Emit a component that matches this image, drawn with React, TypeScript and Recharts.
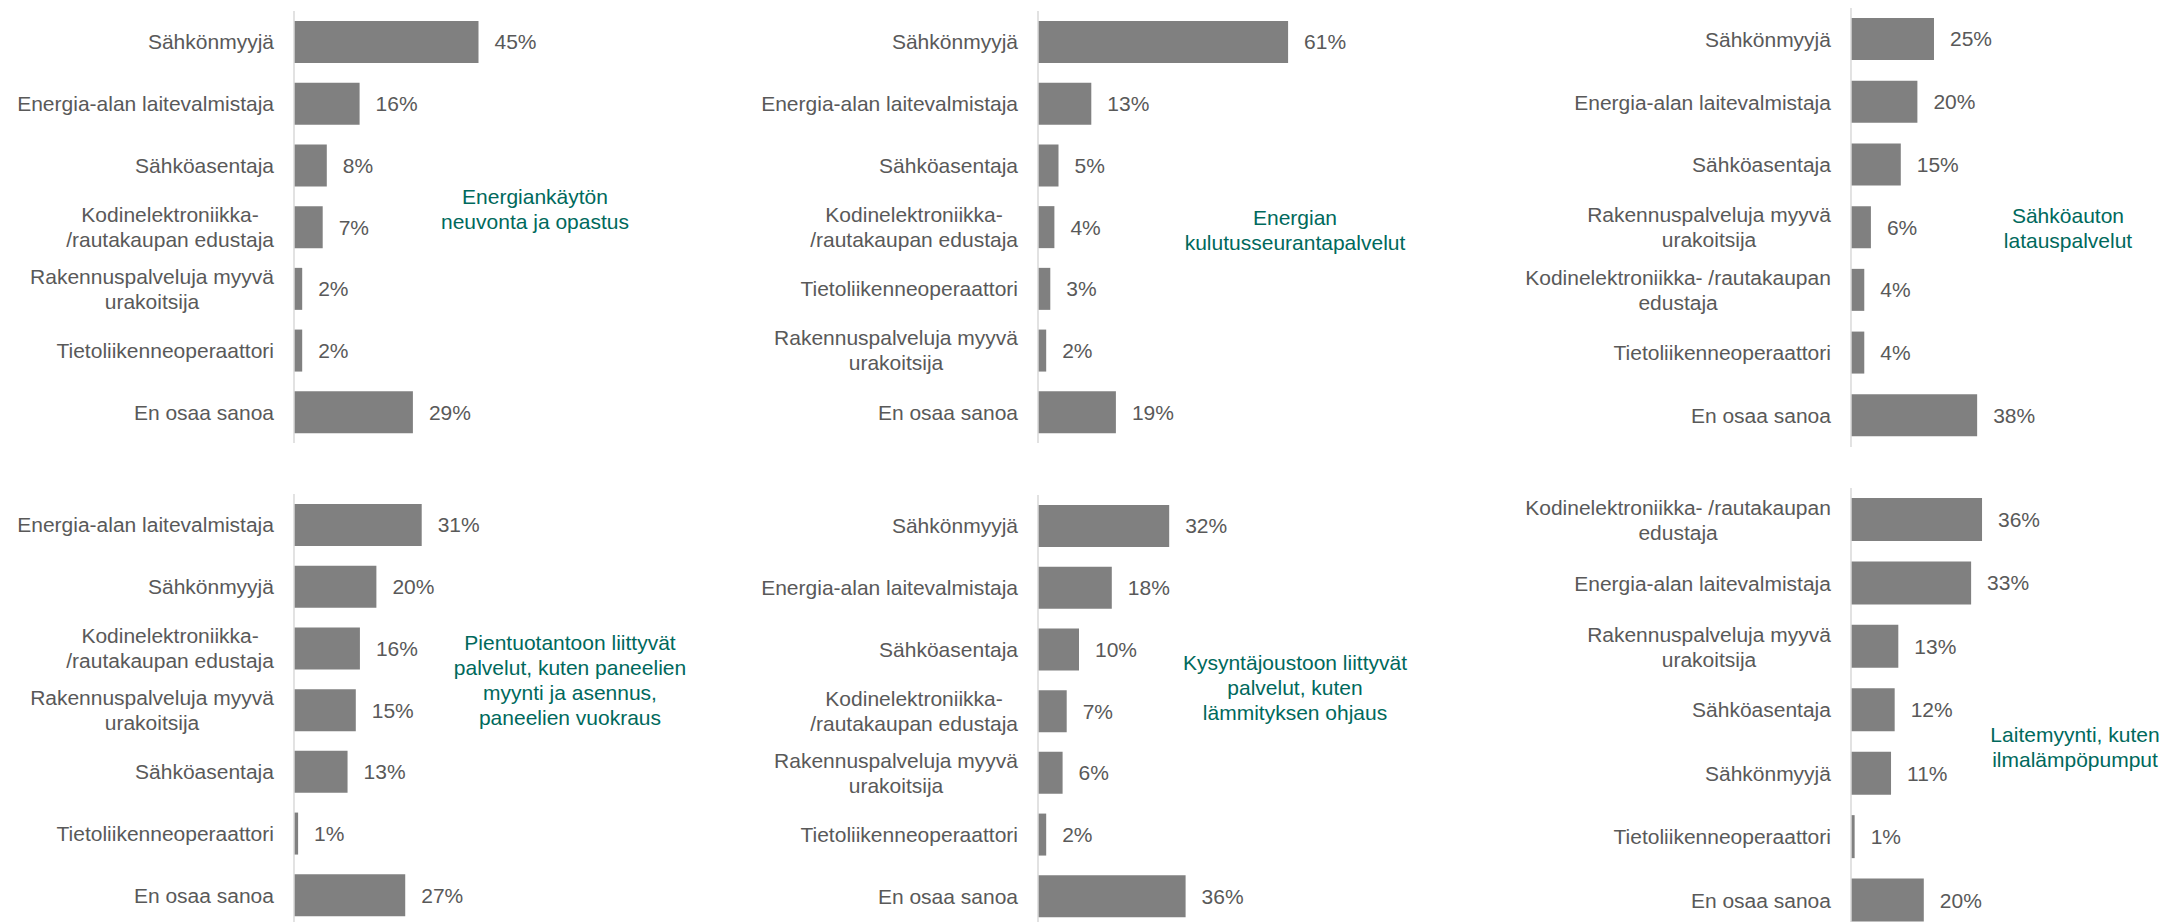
import React from 'react';
import { BarChart, Bar, XAxis, YAxis, LabelList } from 'recharts';

// ---------- data ----------
const cats1 = ['Sähkönmyyjä', 'Energia-alan laitevalmistaja', 'Sähköasentaja', 'Kodinelektroniikka-\n/rautakaupan edustaja', 'Rakennuspalveluja myyvä\nurakoitsija', 'Tietoliikenneoperaattori', 'En osaa sanoa'];
const vals1 = [45, 16, 8, 7, 2, 2, 29];
const title1 = ['Energiankäytön', 'neuvonta ja opastus'];

const cats2 = ['Sähkönmyyjä', 'Energia-alan laitevalmistaja', 'Sähköasentaja', 'Kodinelektroniikka-\n/rautakaupan edustaja', 'Tietoliikenneoperaattori', 'Rakennuspalveluja myyvä\nurakoitsija', 'En osaa sanoa'];
const vals2 = [61, 13, 5, 4, 3, 2, 19];
const title2 = ['Energian', 'kulutusseurantapalvelut'];

const cats3 = ['Sähkönmyyjä', 'Energia-alan laitevalmistaja', 'Sähköasentaja', 'Rakennuspalveluja myyvä\nurakoitsija', 'Kodinelektroniikka- /rautakaupan\nedustaja', 'Tietoliikenneoperaattori', 'En osaa sanoa'];
const vals3 = [25, 20, 15, 6, 4, 4, 38];
const title3 = ['Sähköauton', 'latauspalvelut'];

const cats4 = ['Energia-alan laitevalmistaja', 'Sähkönmyyjä', 'Kodinelektroniikka-\n/rautakaupan edustaja', 'Rakennuspalveluja myyvä\nurakoitsija', 'Sähköasentaja', 'Tietoliikenneoperaattori', 'En osaa sanoa'];
const vals4 = [31, 20, 16, 15, 13, 1, 27];
const title4 = ['Pientuotantoon liittyvät', 'palvelut, kuten paneelien', 'myynti ja asennus,', 'paneelien vuokraus'];

const cats5 = ['Sähkönmyyjä', 'Energia-alan laitevalmistaja', 'Sähköasentaja', 'Kodinelektroniikka-\n/rautakaupan edustaja', 'Rakennuspalveluja myyvä\nurakoitsija', 'Tietoliikenneoperaattori', 'En osaa sanoa'];
const vals5 = [32, 18, 10, 7, 6, 2, 36];
const title5 = ['Kysyntäjoustoon liittyvät', 'palvelut, kuten', 'lämmityksen ohjaus'];

const cats6 = ['Kodinelektroniikka- /rautakaupan\nedustaja', 'Energia-alan laitevalmistaja', 'Rakennuspalveluja myyvä\nurakoitsija', 'Sähköasentaja', 'Sähkönmyyjä', 'Tietoliikenneoperaattori', 'En osaa sanoa'];
const vals6 = [36, 33, 13, 12, 11, 1, 20];
const title6 = ['Laitemyynti, kuten', 'ilmalämpöpumput'];

// ---------- styles ----------
const FONT = '"Liberation Sans", Arial, sans-serif';
const FS = 21;
const LH = 25;
const TEXT = '#595959';
const TEAL = '#00695C';
const BAR = '#808080';
const AXIS = '#D9D9D9';
const YW = 360;
const DMAX = 70;

let ctx: CanvasRenderingContext2D | null = null;
function textWidth(s: string): number {
  if (!ctx) {
    const c = document.createElement('canvas');
    ctx = c.getContext('2d');
  }
  if (ctx) {
    ctx.font = `${FS}px ${FONT}`;
    return ctx.measureText(s).width;
  }
  return s.length * 10;
}

function CatTick(props: any) {
  const { x, y, payload } = props;
  const lines = String(payload.value).split('\n');
  const w = Math.max(...lines.map(textWidth));
  const cx = x - w / 2;
  const y0 = y - ((lines.length - 1) * LH) / 2;
  return (
    <text x={cx} y={y0} textAnchor="middle" fill={TEXT} fontSize={FS} fontFamily={FONT}>
      {lines.map((l, i) => (
        <tspan key={i} x={cx} y={y0 + i * LH} dy="0.355em">
          {l}
        </tspan>
      ))}
    </text>
  );
}

type Panel = {
  cats: string[];
  vals: number[];
  title: string[];
  axisX: number;
  top: number;
  bottom: number;
  ppp: number;
  barSize: number;
  tx: number;
  ty: number;
};

const panels: Panel[] = [
  { cats: cats1, vals: vals1, title: title1, axisX: 294, top: 11, bottom: 443, ppp: 4.1, barSize: 42, tx: 535, ty: 209 },
  { cats: cats2, vals: vals2, title: title2, axisX: 1038, top: 11, bottom: 443, ppp: 4.1, barSize: 42, tx: 1295, ty: 230 },
  { cats: cats3, vals: vals3, title: title3, axisX: 1851, top: 8, bottom: 447, ppp: 3.32, barSize: 42, tx: 2068, ty: 228 },
  { cats: cats4, vals: vals4, title: title4, axisX: 294, top: 494, bottom: 926, ppp: 4.12, barSize: 42, tx: 570, ty: 680 },
  { cats: cats5, vals: vals5, title: title5, axisX: 1038, top: 495, bottom: 927, ppp: 4.1, barSize: 42, tx: 1295, ty: 687 },
  { cats: cats6, vals: vals6, title: title6, axisX: 1851, top: 488, bottom: 932, ppp: 3.64, barSize: 43, tx: 2075, ty: 747 },
];

function PanelChart({ p }: { p: Panel }) {
  const data = p.cats.map((c, i) => ({ name: c, value: p.vals[i] }));
  const plotW = DMAX * p.ppp;
  const width = YW + plotW + 70;
  const height = p.bottom - p.top;
  return (
    <div style={{ position: 'absolute', left: p.axisX - YW, top: p.top }}>
      <BarChart
        layout="vertical"
        width={width}
        height={height}
        data={data}
        margin={{ top: 0, right: 70, bottom: 0, left: 0 }}
      >
        <XAxis type="number" domain={[0, DMAX]} hide />
        <YAxis
          type="category"
          dataKey="name"
          width={YW}
          axisLine={{ stroke: AXIS, strokeWidth: 1.5 }}
          tickLine={false}
          tickSize={0}
          tickMargin={20}
          interval={0}
          tick={<CatTick />}
        />
        <Bar dataKey="value" fill={BAR} barSize={p.barSize} isAnimationActive={false}>
          <LabelList
            dataKey="value"
            position="right"
            offset={16}
            fill={TEXT}
            fontSize={FS}
            fontFamily={FONT}
            formatter={(v: any) => `${v}%`}
          />
        </Bar>
      </BarChart>
    </div>
  );
}

export default function App() {
  return (
    <div
      style={{
        position: 'absolute',
        left: 0,
        top: 0,
        width: 2162,
        height: 922,
        overflow: 'hidden',
        background: '#ffffff',
        fontFamily: FONT,
      }}
    >
      {panels.map((p, i) => (
        <PanelChart key={i} p={p} />
      ))}
      {panels.map((p, i) => (
        <div
          key={'t' + i}
          style={{
            position: 'absolute',
            left: p.tx - 200,
            width: 400,
            top: p.ty - (p.title.length * LH) / 2,
            textAlign: 'center',
            lineHeight: `${LH}px`,
            fontSize: FS,
            color: TEAL,
            fontFamily: FONT,
            whiteSpace: 'nowrap',
          }}
        >
          {p.title.map((l, j) => (
            <div key={j}>{l}</div>
          ))}
        </div>
      ))}
    </div>
  );
}
